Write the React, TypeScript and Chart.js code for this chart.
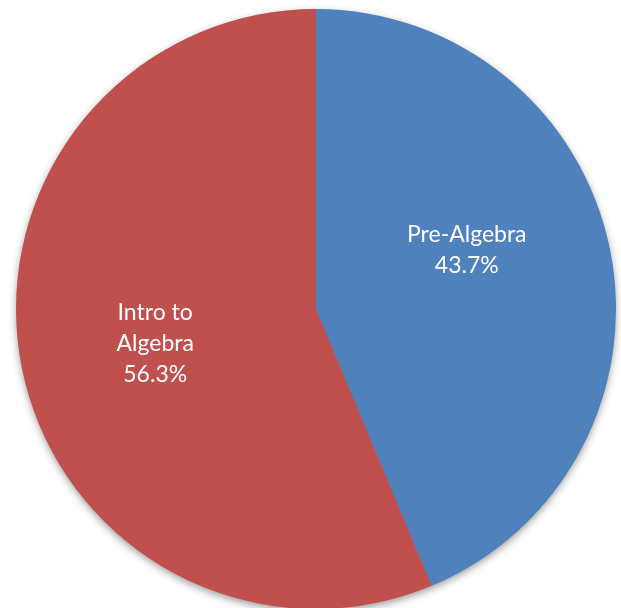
import React, { useEffect, useRef } from 'react';
import { Chart, registerables } from 'chart.js';

Chart.register(...registerables);

const categories = ['Pre-Algebra', 'Intro to Algebra'];
const labelLines = [['Pre-Algebra'], ['Intro to', 'Algebra']];
const values = [43.7, 56.3];
const colors = ['#4F81BD', '#C0504D'];

const shadowPlugin = {
  id: 'pieShadow',
  beforeDatasetsDraw(chart: any) {
    const meta = chart.getDatasetMeta(0);
    const arc = meta.data[0];
    if (!arc) return;
    const { x, y, outerRadius } = arc.getProps(['x', 'y', 'outerRadius'], true);
    const ctx = chart.ctx;
    ctx.save();
    ctx.shadowColor = 'rgba(0,0,0,0.45)';
    ctx.shadowBlur = 9;
    ctx.shadowOffsetX = 0;
    ctx.shadowOffsetY = 3;
    ctx.beginPath();
    ctx.arc(x, y, outerRadius - 1, 0, Math.PI * 2);
    ctx.fillStyle = '#888888';
    ctx.fill();
    ctx.restore();
  },
};

const labelPlugin = {
  id: 'sliceLabels',
  afterDatasetsDraw(chart: any, _args: any, opts: any) {
    const meta = chart.getDatasetMeta(0);
    const data = chart.data.datasets[0].data as number[];
    const total = data.reduce((a, b) => a + b, 0);
    const ctx = chart.ctx;
    ctx.save();
    ctx.fillStyle = '#FFFFFF';
    ctx.font = opts.font;
    ctx.textAlign = 'center';
    ctx.textBaseline = 'middle';
    meta.data.forEach((arc: any, i: number) => {
      const p = arc.getProps(['x', 'y', 'startAngle', 'endAngle', 'outerRadius'], true);
      const mid = (p.startAngle + p.endAngle) / 2;
      const off = opts.offsets[i] || { dx: 0, dy: 0 };
      const cx = p.x + Math.cos(mid) * p.outerRadius * opts.frac + off.dx;
      const cy = p.y + Math.sin(mid) * p.outerRadius * opts.frac + off.dy;
      const lines = [...labelLines[i], ((data[i] / total) * 100).toFixed(1) + '%'];
      const lh = opts.lineHeight;
      const startY = cy - ((lines.length - 1) * lh) / 2;
      lines.forEach((t, j) => ctx.fillText(t, cx, startY + j * lh));
    });
    ctx.restore();
  },
};

export default function App() {
  const ref = useRef<HTMLCanvasElement | null>(null);
  useEffect(() => {
    if (!ref.current) return;
    const chart = new Chart(ref.current, {
      type: 'pie',
      data: {
        labels: categories,
        datasets: [
          {
            data: values,
            backgroundColor: colors,
            borderWidth: 0,
          },
        ],
      },
      options: {
        animation: false,
        responsive: false,
        layout: { padding: { left: 16, right: 5, top: 9, bottom: 11 } },
        plugins: {
          legend: { display: false },
          tooltip: { enabled: false },
          sliceLabels: {
            font: '23px Lato, "Open Sans", sans-serif',
            lineHeight: 31,
            frac: 0.55,
            offsets: [
              { dx: -11, dy: -26 },
              { dx: 1, dy: 2 },
            ],
          },
        } as any,
      },
      plugins: [shadowPlugin, labelPlugin],
    });
    return () => chart.destroy();
  }, []);
  return (
    <div
      style={{
        position: 'absolute',
        left: 0,
        top: 0,
        width: 621,
        height: 608,
        overflow: 'hidden',
        background: '#FFFFFF',
      }}
    >
      <canvas ref={ref} width={621} height={620} style={{ display: 'block' }} />
    </div>
  );
}
